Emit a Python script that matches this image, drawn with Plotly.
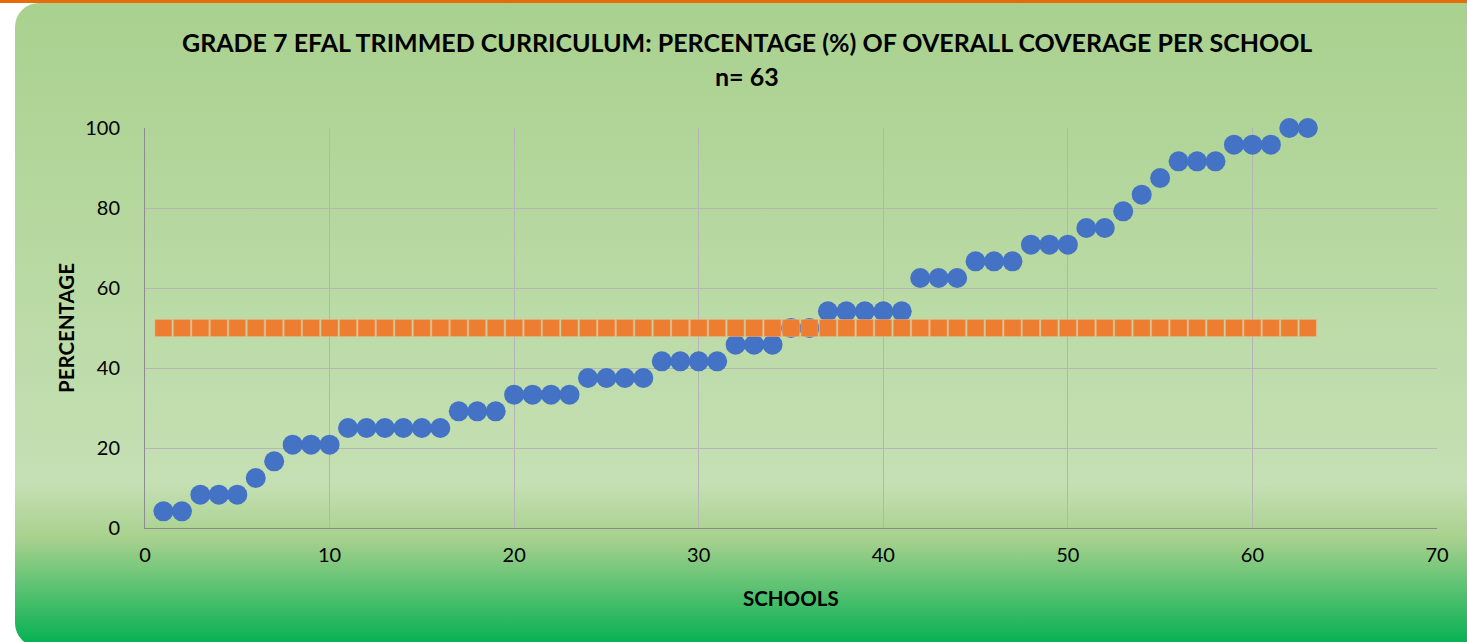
import base64
import plotly.graph_objects as go

# schools numbered 1..63 (x) and their overall coverage % (y)
schools = [1, 2, 3, 4, 5, 6, 7, 8, 9, 10, 11, 12, 13, 14, 15, 16, 17, 18, 19, 20,
           21, 22, 23, 24, 25, 26, 27, 28, 29, 30, 31, 32, 33, 34, 35, 36, 37, 38, 39, 40,
           41, 42, 43, 44, 45, 46, 47, 48, 49, 50, 51, 52, 53, 54, 55, 56, 57, 58, 59, 60,
           61, 62, 63]
coverage = [4.17, 4.17, 8.33, 8.33, 8.33, 12.5, 16.67, 20.83, 20.83, 20.83,
            25, 25, 25, 25, 25, 25, 29.17, 29.17, 29.17, 33.33,
            33.33, 33.33, 33.33, 37.5, 37.5, 37.5, 37.5, 41.67, 41.67, 41.67,
            41.67, 45.83, 45.83, 45.83, 50, 50, 54.17, 54.17, 54.17, 54.17,
            54.17, 62.5, 62.5, 62.5, 66.67, 66.67, 66.67, 70.83, 70.83, 70.83,
            75, 75, 79.17, 83.33, 87.5, 91.67, 91.67, 91.67, 95.83, 95.83,
            95.83, 100, 100]
benchmark = [50, 50, 50, 50, 50, 50, 50, 50, 50, 50, 50, 50, 50, 50, 50, 50, 50, 50, 50, 50,
             50, 50, 50, 50, 50, 50, 50, 50, 50, 50, 50, 50, 50, 50, 50, 50, 50, 50, 50, 50,
             50, 50, 50, 50, 50, 50, 50, 50, 50, 50, 50, 50, 50, 50, 50, 50, 50, 50, 50, 50,
             50, 50, 50]

x_ticks = [0, 10, 20, 30, 40, 50, 60, 70]
y_ticks = [0, 20, 40, 60, 80, 100]

title = "GRADE 7 EFAL TRIMMED CURRICULUM: PERCENTAGE (%) OF OVERALL COVERAGE PER SCHOOL"
subtitle = "n= 63"

W, H = 1467, 642
FONT = "Lato"

# background: orange top strip + rounded green gradient card
svg = f'''<svg xmlns="http://www.w3.org/2000/svg" width="{W}" height="{H}" viewBox="0 0 {W} {H}" preserveAspectRatio="none">
<defs>
<linearGradient id="g" x1="0" y1="0" x2="0" y2="1">
<stop offset="0" stop-color="#a9d18e"/>
<stop offset="0.745" stop-color="#c5e0b4"/>
<stop offset="0.83" stop-color="#a9d18e"/>
<stop offset="1" stop-color="#00b050"/>
</linearGradient>
</defs>
<rect x="0" y="0" width="{W}" height="{H}" fill="#ffffff"/>
<rect x="15" y="3" width="{W + 10}" height="{H + 2}" rx="24" ry="24" fill="url(#g)"/>
<rect x="0" y="0" width="{W}" height="3" fill="#e46c0a"/>
</svg>'''
bg_src = "data:image/svg+xml;base64," + base64.b64encode(svg.encode()).decode()

fig = go.Figure()
fig.add_trace(go.Scatter(x=schools, y=coverage, mode="markers", name="Coverage", cliponaxis=False,
                         marker=dict(symbol="circle", size=20, color="#4472c4", line=dict(width=0))))
fig.add_trace(go.Scatter(x=schools, y=benchmark, mode="markers", name="Benchmark", cliponaxis=False,
                         marker=dict(symbol="square", size=17, color="#ed7d31",
                                     line=dict(width=0.5, color="#f4b183"))))

# plot area in pixels: x 145..1437, y 128..528
fig.update_layout(
    width=W, height=H,
    margin=dict(l=0, r=0, t=0, b=0, autoexpand=False),
    paper_bgcolor="#ffffff",
    plot_bgcolor="rgba(0,0,0,0)",
    showlegend=False,
    font=dict(family=FONT, color="#000000"),
    images=[dict(source=bg_src, xref="paper", yref="paper", x=0, y=1, sizex=1, sizey=1,
                 xanchor="left", yanchor="top", sizing="stretch", layer="below")],
    xaxis=dict(domain=[145 / W, 1437 / W], range=[0, 70], tickvals=x_ticks,
               showgrid=True, gridcolor="#b5b5b5", gridwidth=1,
               showline=True, linecolor="#8c8c8c", linewidth=1, zeroline=False,
               ticks="", ticklabelstandoff=9, tickfont=dict(size=20, family=FONT, color="#000000")),
    yaxis=dict(domain=[1 - 528 / H, 1 - 128 / H], range=[0, 100], tickvals=y_ticks,
               showgrid=True, gridcolor="#b5b5b5", gridwidth=1,
               showline=True, linecolor="#8c8c8c", linewidth=1, zeroline=False,
               ticks="", ticklabelstandoff=20, tickfont=dict(size=20, family=FONT, color="#000000")),
    annotations=[
        dict(text=f"<b>{title}</b>", xref="paper", yref="paper", x=747 / W, y=1 - 42 / H,
             showarrow=False, xanchor="center", yanchor="middle",
             font=dict(size=25, family=FONT, color="#000000")),
        dict(text=f"<b>{subtitle}</b>", xref="paper", yref="paper", x=747 / W, y=1 - 76 / H,
             showarrow=False, xanchor="center", yanchor="middle",
             font=dict(size=25, family=FONT, color="#000000")),
        dict(text="<b>SCHOOLS</b>", xref="paper", yref="paper", x=791 / W, y=1 - 598 / H,
             showarrow=False, xanchor="center", yanchor="middle",
             font=dict(size=20.5, family=FONT, color="#000000")),
        dict(text="<b>PERCENTAGE</b>", xref="paper", yref="paper", x=66 / W, y=1 - 328 / H,
             showarrow=False, xanchor="center", yanchor="middle", textangle=-90,
             font=dict(size=20.5, family=FONT, color="#000000")),
    ],
)

fig.write_html("out.html", config={"displayModeBar": False},
               post_script="document.body.style.margin='0';document.body.style.overflow='hidden';")
